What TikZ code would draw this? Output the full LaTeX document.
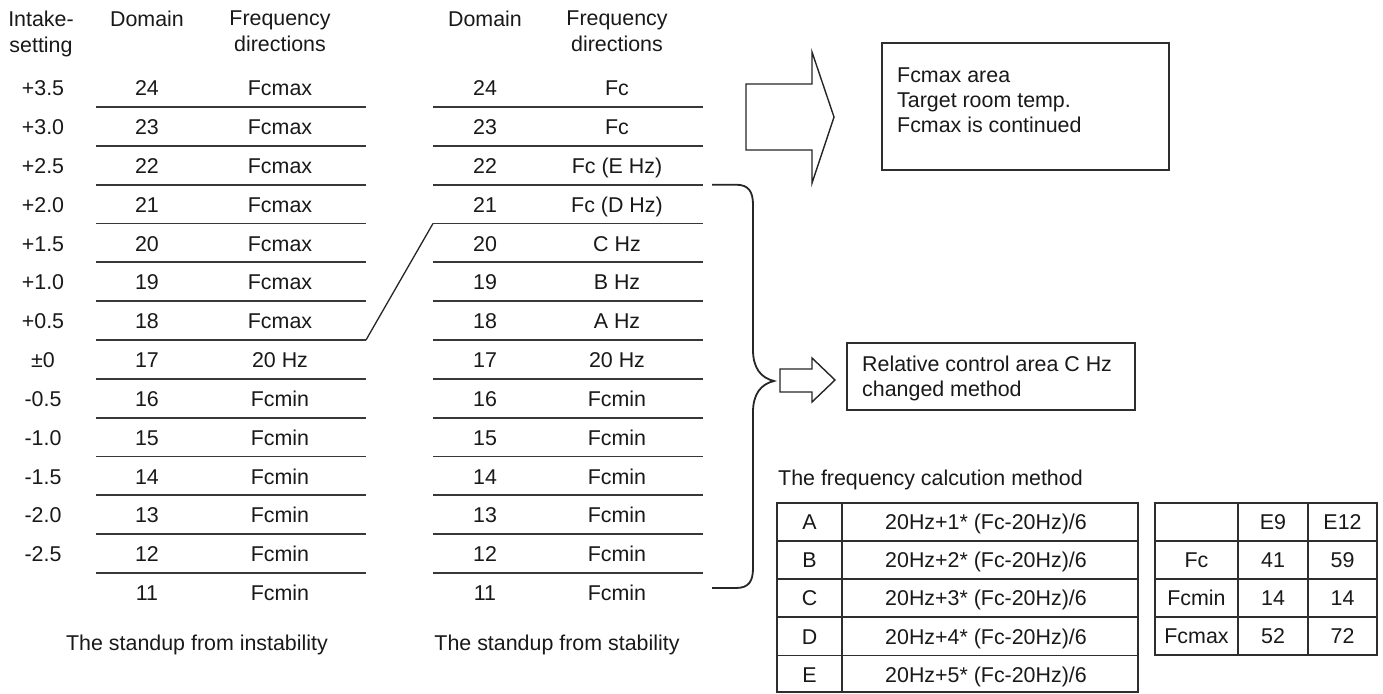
\documentclass[tikz,border=0pt]{standalone}
\usepackage{fontspec}
\setmainfont{Liberation Sans}
\begin{document}
\begin{tikzpicture}[x=1pt,y=-1pt,
  every node/.style={font=\fontsize{21.4}{26}\selectfont, inner sep=0pt, text=black!90},
  cell/.style={text height=15.4pt, text depth=0pt},
  rulel/.style={line width=1.9pt, draw=black!78},
  frame/.style={line width=1.7pt, draw=black!82},
  blockarrow/.style={line width=1.4pt, draw=black!85, fill=white, line join=miter}]
\useasboundingbox[fill=white] (0,0) rectangle (1383,693);

% ---------- headers ----------
\node[align=center, anchor=north] (hInt) at (41,10.6) {Intake-\\setting};
\node[anchor=north] (hDomL) at (147,10.6) {Domain};
\node[align=center, anchor=north] (hFrqL) at (280,10.6) {Frequency\\directions};
\node[anchor=north] (hDomR) at (485,10.6) {Domain};
\node[align=center, anchor=north] (hFrqR) at (617,10.6) {Frequency\\directions};

% ---------- left table ----------
\foreach \d/\f/\s [count=\k from 0] in
  {24/Fcmax/+3.5, 23/Fcmax/+3.0, 22/Fcmax/+2.5, 21/Fcmax/+2.0, 20/Fcmax/+1.5,
   19/Fcmax/+1.0, 18/Fcmax/+0.5, 17/20 Hz/±0, 16/Fcmin/-0.5, 15/Fcmin/-1.0,
   14/Fcmin/-1.5, 13/Fcmin/-2.0, 12/Fcmin/-2.5, 11/Fcmin/{}} {
  \node[cell] (ls\d) at (43,{88+38.83*\k}) {\s};
  \node[cell] (ld\d) at (147,{88+38.83*\k}) {\d};
  \node[cell] (lf\d) at (280,{88+38.83*\k}) {\f};
}
\foreach \k in {0,...,12} {
  \draw[rulel] (96,{107+38.83*\k}) -- (366,{107+38.83*\k});
}

% ---------- right table ----------
\foreach \d/\f [count=\k from 0] in
  {24/Fc, 23/Fc, 22/{Fc (E Hz)}, 21/{Fc (D Hz)}, 20/C Hz, 19/B Hz, 18/A Hz,
   17/20 Hz, 16/Fcmin, 15/Fcmin, 14/Fcmin, 13/Fcmin, 12/Fcmin, 11/Fcmin} {
  \node[cell] (rd\d) at (485,{88+38.83*\k}) {\d};
  \node[cell] (rf\d) at (617,{88+38.83*\k}) {\f};
}
\foreach \k in {0,...,12} {
  \draw[rulel] (433,{107+38.83*\k}) -- (703,{107+38.83*\k});
}

% slanted link
\coordinate (lnk1) at (366,{107+38.83*6});
\coordinate (lnk2) at (433,{107+38.83*3});
\draw[line width=1.3pt, draw=black!85] (lnk1) -- (lnk2);

% captions
\node[cell] (capL) at (197,643) {The standup from instability};
\node[cell] (capR) at (557,643) {The standup from stability};

% ---------- brace ----------
\draw[line width=1.8pt, draw=black!85]
  (712,184.7) -- (736,184.7) .. controls (749,184.7) and (753,192) .. (753,205)
  -- (753,350) .. controls (753,368) and (761,378) .. (774,381)
  .. controls (761,384) and (753,394) .. (753,412)
  -- (753,568) .. controls (753,581) and (749,588) .. (736,588) -- (712,588);

% ---------- big arrow and top box ----------
\draw[blockarrow] (746,84) -- (812,84) -- (812,52) -- (834,117) -- (812,183)
  -- (812,150) -- (746,150) -- cycle;
\draw[frame] (882,43) rectangle (1169,170);
\node[align=left, anchor=north west, font=\fontsize{21.4}{25}\selectfont] (topTxt) at (897,67.3)
  {Fcmax area\\Target room temp.\\Fcmax is continued};

% ---------- small arrow and relative box ----------
\draw[blockarrow] (780,369) -- (812,369) -- (812,358) -- (835,380) -- (812,402)
  -- (812,392) -- (780,392) -- cycle;
\draw[frame] (847,343) rectangle (1135,410);
\node[align=left, anchor=north west, font=\fontsize{21.4}{25}\selectfont] (relTxt) at (862,355.3)
  {Relative control area C Hz\\changed method};

% ---------- calculation table ----------
\node[cell, anchor=west] (calcT) at (778,478) {The frequency calcution method};
\draw[frame] (777,503) rectangle (1138,692);
\draw[frame] (842,503) -- (842,692);
\foreach \y in {541,579,617,655.5} \draw[frame] (777,\y) -- (1138,\y);
\foreach \l/\n [count=\k from 0] in {A/1, B/2, C/3, D/4, E/5} {
  \node[cell] (cl\l) at (809.5,{522+38.1*\k}) {\l};
  \node[cell] (cf\l) at (986,{522+38.1*\k}) {20Hz+\n* (Fc-20Hz)/6};
}

% ---------- model table ----------
\draw[frame] (1155,503) rectangle (1377,655);
\draw[frame] (1238,503) -- (1238,655);
\draw[frame] (1308,503) -- (1308,655);
\foreach \y in {541,579,617} \draw[frame] (1155,\y) -- (1377,\y);
\node[cell] (mE9) at (1273,522) {E9};
\node[cell] (mE12) at (1342.5,522) {E12};
\node[cell] (mFc) at (1196.5,560) {Fc};
\node[cell] (mFc9) at (1273,560) {41};
\node[cell] (mFc12) at (1342.5,560) {59};
\node[cell] (mMin) at (1196.5,598) {Fcmin};
\node[cell] (mMin9) at (1273,598) {14};
\node[cell] (mMin12) at (1342.5,598) {14};
\node[cell] (mMax) at (1196.5,636) {Fcmax};
\node[cell] (mMax9) at (1273,636) {52};
\node[cell] (mMax12) at (1342.5,636) {72};
\end{tikzpicture}
\end{document}
